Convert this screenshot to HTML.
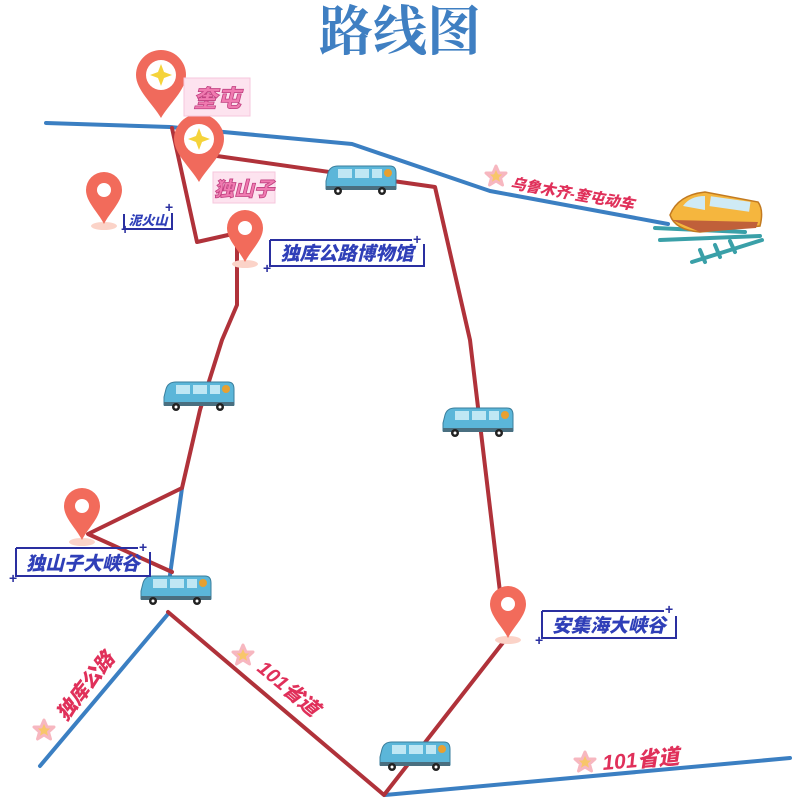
<!DOCTYPE html>
<html><head><meta charset="utf-8"><style>
html,body{margin:0;padding:0;background:#fff;}
svg{display:block}
.lbl{font-family:"Liberation Sans","Noto Sans CJK SC",sans-serif;font-weight:900;font-style:italic}
</style></head><body>
<svg width="800" height="800" viewBox="0 0 800 800" xmlns="http://www.w3.org/2000/svg">
<defs>
<g id="bus">
  <path d="M4,8 Q6,1 14,1 L66,1 Q72,1 72,8 L72,24 L2,24 L2,16 Z" fill="#5bb6d9" stroke="#3a7e9c" stroke-width="1"/>
  <rect x="14" y="4" width="14" height="9" fill="#bfe7f4"/>
  <rect x="31" y="4" width="14" height="9" fill="#bfe7f4"/>
  <rect x="48" y="4" width="10" height="9" fill="#bfe7f4"/>
  <circle cx="64" cy="8" r="4" fill="#e8a030"/>
  <rect x="2" y="21" width="70" height="4" fill="#4a6f80"/>
  <circle cx="14" cy="26" r="4" fill="#222"/><circle cx="14" cy="26" r="1.5" fill="#fff"/>
  <circle cx="58" cy="26" r="4" fill="#222"/><circle cx="58" cy="26" r="1.5" fill="#fff"/>
</g>
<g id="pin">
  <ellipse cx="0" cy="2" rx="13" ry="4" fill="#fbd3c8"/>
  <path d="M0,0 C-6,-12 -18,-22 -18,-34 A18,18 0 1 1 18,-34 C18,-22 6,-12 0,0 Z" fill="#f26b5b"/>
  <circle cx="0" cy="-34" r="7" fill="#fff"/>
</g>
<g id="bigpin">
  <path d="M0,0 C-8,-14 -25,-28 -25,-43 A25,25 0 1 1 25,-43 C25,-28 8,-14 0,0 Z" fill="#f06a5c"/>
  <circle cx="0" cy="-43" r="15" fill="#fff"/>
  <path d="M0,-54 L3,-46 L11,-43 L3,-40 L0,-32 L-3,-40 L-11,-43 L-3,-46 Z" fill="#f5d33a"/>
</g>
<g id="star">
  <path d="M0,-10 L3,-3 L10,-3 L4.5,2 L6.5,9 L0,5 L-6.5,9 L-4.5,2 L-10,-3 L-3,-3 Z" fill="#f8c66a" stroke="#f7b7c0" stroke-width="3" stroke-linejoin="round"/>
</g>
</defs>

<text x="400" y="50" text-anchor="middle" font-family="'Liberation Serif','Noto Serif CJK SC',serif" font-weight="bold" font-size="54" fill="#3f7fc2">路线图</text>

<!-- blue lines -->
<g fill="none" stroke="#3b7fc2" stroke-width="4" stroke-linecap="round" stroke-linejoin="round">
  <polyline points="46,123 170,127 352,144 490,191 668,224"/>
  <polyline points="182,488 170,575"/>
  <polyline points="168,614 40,766"/>
  <polyline points="385,795 790,758"/>
</g>
<!-- red route -->
<g fill="none" stroke="#b0323a" stroke-width="4" stroke-linecap="round" stroke-linejoin="round">
  <polyline points="172,128 197,242 237,233 237,305 222,340 200,410 182,488 88,534 172,572"/>
  <polyline points="210,155 435,187 470,340 500,592"/>
  <polyline points="168,612 384,795 505,640"/>
</g>

<!-- train -->
<g stroke="#3aa0a8" stroke-width="4" stroke-linecap="round">
  <line x1="655" y1="228" x2="745" y2="232"/>
  <line x1="660" y1="240" x2="760" y2="236"/>
  <line x1="692" y1="262" x2="762" y2="240"/>
  <line x1="700" y1="250" x2="705" y2="262"/>
  <line x1="715" y1="245" x2="720" y2="257"/>
  <line x1="730" y1="241" x2="735" y2="252"/>
</g>
<path d="M670,215 Q678,195 705,192 L758,202 Q764,210 760,226 L700,232 Q675,230 670,215 Z" fill="#f5b63e" stroke="#c27a20" stroke-width="1.5"/>
<path d="M683,206 Q690,196 705,196 L705,210 Z" fill="#cfeaf5"/>
<rect x="710" y="199" width="40" height="10" fill="#cfeaf5" transform="rotate(8 730 204)"/>
<path d="M672,220 L758,222 L756,228 L700,232 Z" fill="#c0603a"/>

<!-- buses -->
<use href="#bus" x="324" y="165"/>
<use href="#bus" x="162" y="381"/>
<use href="#bus" x="441" y="407"/>
<use href="#bus" x="139" y="575"/>
<use href="#bus" x="378" y="741"/>

<!-- pins -->
<use href="#pin" x="104" y="224"/>
<use href="#pin" x="245" y="262"/>
<use href="#pin" x="82" y="540"/>
<use href="#pin" x="508" y="638"/>
<use href="#bigpin" x="161" y="118"/>
<use href="#bigpin" x="199" y="182"/>

<!-- pink labels -->
<rect x="184" y="78" width="66" height="38" fill="#fde3ef" stroke="#f6c7dc"/>
<text x="217" y="107" text-anchor="middle" class="lbl" font-style="normal" font-size="24" fill="#f07ab0" stroke="#c04080" stroke-width="0.8">奎屯</text>
<rect x="213" y="172" width="62" height="31" fill="#fde3ef" stroke="#f6c7dc"/>
<text x="244" y="196" text-anchor="middle" class="lbl" font-style="normal" font-size="20" fill="#f07ab0" stroke="#c04080" stroke-width="0.8">独山子</text>

<!-- blue labels -->
<g fill="none" stroke="#2a2fa0" stroke-width="2">
  <polyline points="124,214 124,229 172,229 172,213"/>
  <polyline points="270,240 270,266 424,266 424,244"/>
  <line x1="270" y1="240" x2="412" y2="240"/>
  <polyline points="16,548 16,576 150,576 150,552"/>
  <line x1="16" y1="548" x2="138" y2="548"/>
  <polyline points="542,611 542,638 676,638 676,616"/>
  <line x1="542" y1="611" x2="664" y2="611"/>
</g>
<g fill="#2a2fa0" font-family="'Liberation Sans',sans-serif" font-weight="bold" font-size="14">
  <text x="121" y="234">+</text><text x="165" y="212">+</text>
  <text x="263" y="273">+</text><text x="413" y="244">+</text>
  <text x="9" y="583">+</text><text x="139" y="552">+</text>
  <text x="535" y="645">+</text><text x="665" y="614">+</text>
</g>
<text x="148" y="225" text-anchor="middle" class="lbl" font-size="13" fill="#2f3fb8">泥火山</text>
<text x="347" y="260" text-anchor="middle" class="lbl" font-size="19" fill="#2f3fb8">独库公路博物馆</text>
<text x="83" y="570" text-anchor="middle" class="lbl" font-size="19" fill="#2f3fb8">独山子大峡谷</text>
<text x="609" y="632" text-anchor="middle" class="lbl" font-size="19" fill="#2f3fb8">安集海大峡谷</text>

<!-- road labels -->
<use href="#star" x="496" y="176"/>
<text class="lbl" font-size="15" fill="#e0305a" transform="translate(510,188) rotate(10)">乌鲁木齐-奎屯动车</text>
<use href="#star" x="44" y="730"/>
<text class="lbl" font-size="20" fill="#e0305a" transform="translate(66,722) rotate(-52)">独库公路</text>
<use href="#star" x="243" y="655"/>
<text class="lbl" font-size="20" fill="#e0305a" transform="translate(256,670) rotate(40)">101省道</text>
<use href="#star" x="585" y="762"/>
<text class="lbl" font-size="21" fill="#e0305a" transform="translate(603,770) rotate(-5)">101省道</text>
</svg>
</body></html>
